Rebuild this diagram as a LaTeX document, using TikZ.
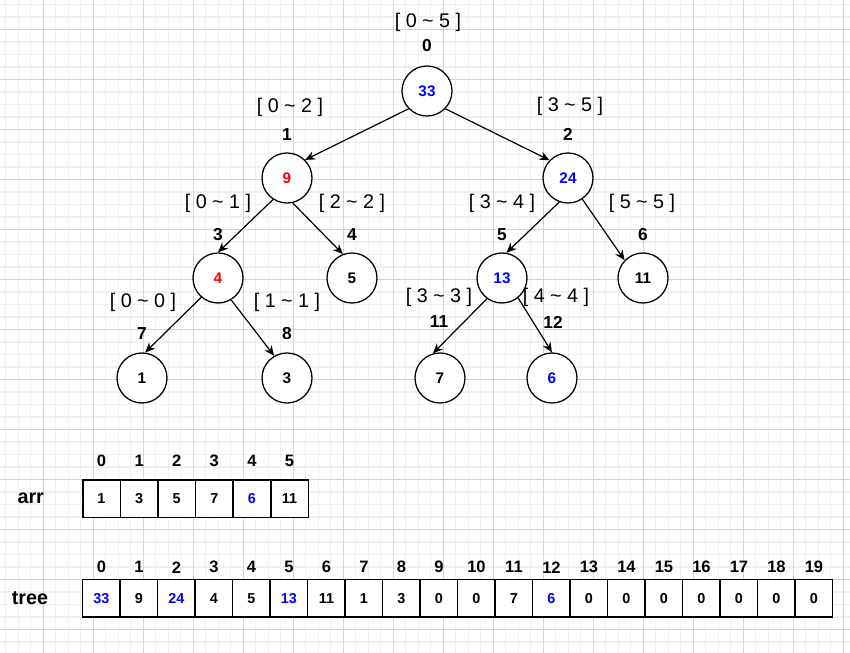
\documentclass[tikz,border=0pt]{standalone}
\usepackage{fontspec}
\setmainfont{Liberation Sans}
\usetikzlibrary{arrows.meta,positioning}

\newcommand{\segrange}[2]{[ #1 \textasciitilde{} #2 ]}

\begin{document}
\begin{tikzpicture}[
  x=0.75pt, y=-0.75pt,
  tnode/.style={draw, circle, line width=0.95pt, minimum size=37.5pt, inner sep=0pt,
                fill=white, font=\fontsize{11.5}{13}\selectfont\bfseries},
  rangelbl/.style={inner sep=0pt, font=\fontsize{14.8}{16}\selectfont},
  posnum/.style={inner sep=0pt, font=\fontsize{13}{14}\selectfont\bfseries},
  idx/.style={inner sep=0pt, font=\fontsize{12.4}{14}\selectfont\bfseries},
  cell/.style={draw, line width=1.1pt, minimum width=28.1pt, minimum height=28pt,
               inner sep=0pt, outer sep=0pt, fill=white, font=\fontsize{10.8}{12}\selectfont\bfseries},
  rowname/.style={inner sep=0pt, font=\fontsize{14.8}{16}\selectfont\bfseries},
  arr/.style={-{Stealth[length=7.5pt, width=6.5pt]}, line width=0.9pt},
  minor/.style={draw=black!6, line width=0.8pt},
  major/.style={draw=black!17, line width=0.9pt},
]
\useasboundingbox (0,0) rectangle (850,653);
% grid paper
\fill[white] (0,0) rectangle (850,653);
\foreach \k in {0,...,68} \draw[minor] ({-6.7+12.5*\k},0) -- ({-6.7+12.5*\k},653);
\foreach \k in {0,...,52} \draw[minor] (0,{4.5+12.5*\k}) -- (850,{4.5+12.5*\k});
\foreach \k in {1,...,17} \draw[major] ({-6.7+50*\k},0) -- ({-6.7+50*\k},653);
\foreach \k in {0,...,13} \draw[major] (0,{29.5+50*\k}) -- (850,{29.5+50*\k});

% segment tree
\node[tnode, text=blue] (n0) at (427,91) {33};
\node[tnode, text=red] (n1) at (287,178) {9};
\node[tnode, text=blue] (n2) at (568,178) {24};
\node[tnode, text=red] (n3) at (218,278) {4};
\node[tnode] (n4) at (352,278) {5};
\node[tnode, text=blue] (n5) at (502,278) {13};
\node[tnode] (n6) at (643,278) {11};
\node[tnode] (n7) at (142,378) {1};
\node[tnode] (n8) at (287,378) {3};
\node[tnode] (n11) at (440,378) {7};
\node[tnode, text=blue] (n12) at (552,378) {6};

\node[rangelbl] (r0) at (428,22) {\segrange{0}{5}};
\node[posnum] (p0) at (427,46) {0};
\node[rangelbl] (r1) at (290,107) {\segrange{0}{2}};
\node[posnum] (p1) at (287,135) {1};
\node[rangelbl] (r2) at (570,106) {\segrange{3}{5}};
\node[posnum] (p2) at (568,134) {2};
\node[rangelbl] (r3) at (218,203) {\segrange{0}{1}};
\node[posnum] (p3) at (218,235) {3};
\node[rangelbl] (r4) at (352,203) {\segrange{2}{2}};
\node[posnum] (p4) at (352,235) {4};
\node[rangelbl] (r5) at (502,203) {\segrange{3}{4}};
\node[posnum] (p5) at (502,235) {5};
\node[rangelbl] (r6) at (642,203) {\segrange{5}{5}};
\node[posnum] (p6) at (643,235) {6};
\node[rangelbl] (r7) at (143,302) {\segrange{0}{0}};
\node[posnum] (p7) at (142,334) {7};
\node[rangelbl] (r8) at (287,302) {\segrange{1}{1}};
\node[posnum] (p8) at (287,334) {8};
\node[rangelbl] (r11) at (439,297) {\segrange{3}{3}};
\node[posnum] (p11) at (439,322) {11};
\node[rangelbl] (r12) at (556,297) {\segrange{4}{4}};
\node[posnum] (p12) at (553,322) {12};

\draw[arr] (n0.224) -- (n1.45);
\draw[arr] (n0.-44) -- (n2.136);
\draw[arr] (n1.-123) -- (n3.north);
\draw[arr] (n1.-77) -- (n4.111);
\draw[arr] (n3.-131) -- (n7.83);
\draw[arr] (n3.-59) -- (n8.120);
\draw[arr] (n2.-110) -- (n5.80);
\draw[arr] (n2.-56) -- (n6.136);
\draw[arr] (n5.-126) -- (n11.106);
\draw[arr] (n5.-51) -- (n12.north);

% arrays
\node[rowname] (arrname) at (30.7,498) {arr};
\foreach \v/\c [count=\i from 0] in {1/black,3/black,5/black,7/black,6/blue,11/black} {
  \node[cell, text=\c] (a\i) at ({101.5+37.6*\i},498.7) {\v};
  \node[idx] (ai\i) at ({101.5+37.6*\i},460.7) {\i};
}
\node[rowname] (treename) at (30,597.7) {tree};
\foreach \v/\c [count=\i from 0] in {33/blue,9/black,24/blue,4/black,5/black,13/blue,11/black,1/black,3/black,0/black,
                                     0/black,7/black,6/blue,0/black,0/black,0/black,0/black,0/black,0/black,0/black} {
  \node[cell, text=\c] (t\i) at ({101.45+37.5*\i},598.3) {\v};
  \node[idx] (ti\i) at ({101.45+37.5*\i},567.3) {\i};
}
\end{tikzpicture}
\end{document}
